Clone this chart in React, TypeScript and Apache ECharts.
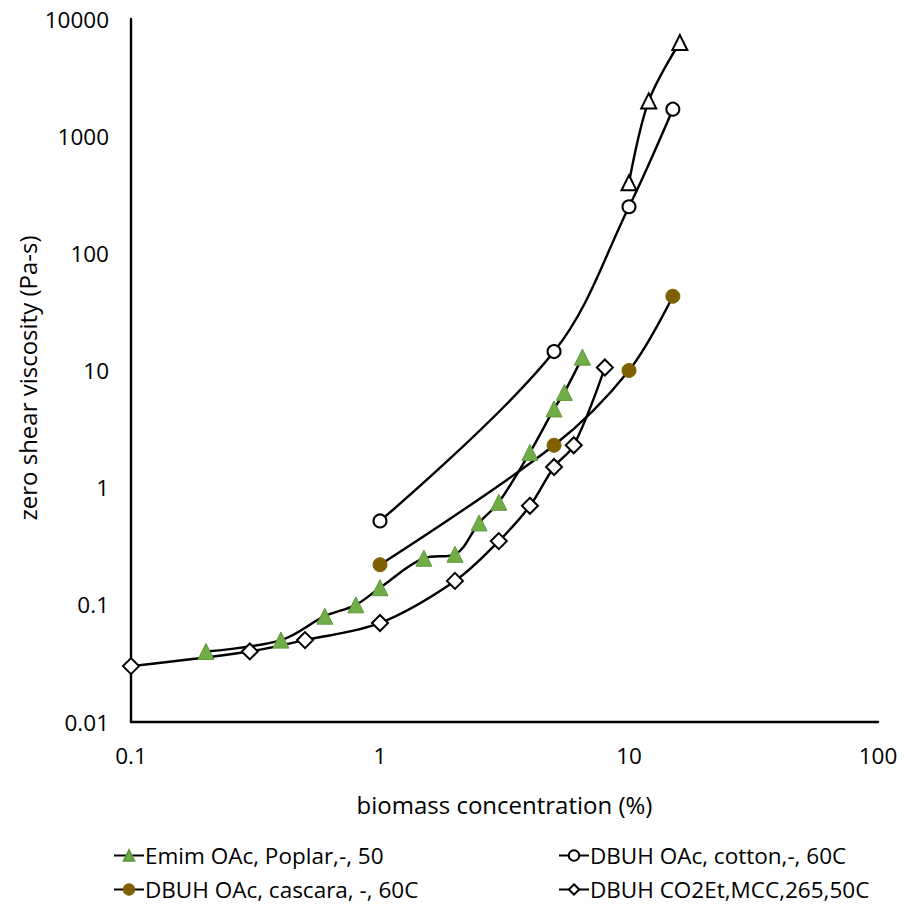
import React, { useEffect, useRef } from "react";
import * as echarts from "echarts";

const emimX = [0.2, 0.4, 0.6, 0.8, 1, 1.5, 2, 2.5, 3, 4, 5, 5.5, 6.5];
const emimY = [0.04, 0.05, 0.08, 0.1, 0.14, 0.25, 0.27, 0.5, 0.75, 2, 4.7, 6.5, 13];

const cottonX = [1, 5, 10, 15];
const cottonY = [0.52, 14.5, 250, 1700];

const cascaraX = [1, 5, 10, 15];
const cascaraY = [0.22, 2.3, 10, 43];

const mccX = [0.1, 0.3, 0.5, 1, 2, 3, 4, 5, 6, 8];
const mccY = [0.03, 0.04, 0.05, 0.07, 0.16, 0.35, 0.7, 1.5, 2.3, 10.6];

const triX = [10, 12, 16];
const triY = [400, 2000, 6300];

const seriesNames = [
  "Emim OAc, Poplar,-, 50",
  "DBUH OAc, cotton,-, 60C",
  "DBUH OAc, cascara, -, 60C",
  "DBUH CO2Et,MCC,265,50C",
];

const xTicks = [0.1, 1, 10, 100];
const yTicks = [0.01, 0.1, 1, 10, 100, 1000, 10000];

const zip = (xs: number[], ys: number[]) => xs.map((x, i) => [x, ys[i]]);
const fmt = (v: number) => String(Number(v.toPrecision(6)));

const FONT = "Open Sans";

export default function App() {
  const ref = useRef<HTMLDivElement>(null);
  useEffect(() => {
    if (!ref.current) return;
    const chart = echarts.init(ref.current, undefined, { renderer: "svg" });
    const lineStyle = { color: "#000", width: 2.4 };
    const base = {
      type: "line" as const,
      smooth: 0.35,
      lineStyle,
      z: 2,
    };
    const legendText = { fontSize: 22.5, color: "#000", fontFamily: FONT, padding: [0, 0, 0, -4] };
    chart.setOption({
      animation: false,
      backgroundColor: "#fff",
      textStyle: { fontFamily: FONT },
      grid: { left: 131, top: 19, right: 26, bottom: 187 },
      graphic: [
        {
          type: "text",
          x: 27,
          y: 378,
          rotation: Math.PI / 2,
          style: {
            text: "zero shear viscosity (Pa-s)",
            fontSize: 24,
            fontFamily: FONT,
            fill: "#000",
            align: "center",
            verticalAlign: "middle",
          },
        },
      ],
      xAxis: {
        type: "log",
        logBase: 10,
        min: xTicks[0],
        max: xTicks[xTicks.length - 1],
        name: "biomass concentration (%)",
        nameLocation: "middle",
        nameGap: 70,
        nameTextStyle: { fontSize: 24, color: "#000", fontFamily: FONT },
        axisLine: { lineStyle: { color: "#000", width: 2.4 } },
        axisTick: { show: false },
        splitLine: { show: false },
        minorTick: { show: false },
        axisLabel: { fontSize: 22.5, color: "#000", margin: 22, formatter: (v: number) => fmt(v) },
      },
      yAxis: {
        type: "log",
        logBase: 10,
        min: yTicks[0],
        max: yTicks[yTicks.length - 1],
        axisLine: { lineStyle: { color: "#000", width: 2.4 } },
        axisTick: { show: false },
        splitLine: { show: false },
        axisLabel: { fontSize: 22.5, color: "#000", margin: 22, formatter: (v: number) => fmt(v) },
      },
      legend: [
        {
          left: 108,
          top: 839,
          orient: "vertical",
          itemGap: 11,
          itemWidth: 30,
          itemHeight: 13,
          data: [seriesNames[0], seriesNames[2]],
          textStyle: legendText,
        },
        {
          left: 553,
          top: 839,
          orient: "vertical",
          itemGap: 11,
          itemWidth: 30,
          itemHeight: 13,
          data: [seriesNames[1], seriesNames[3]],
          textStyle: legendText,
        },
      ],
      series: [
        {
          ...base,
          name: "triangles-open",
          data: zip(triX, triY),
          symbol: "triangle",
          symbolSize: 15,
          itemStyle: { color: "#fff", borderColor: "#000", borderWidth: 2 },
        },
        {
          ...base,
          name: seriesNames[1],
          data: zip(cottonX, cottonY),
          symbol: "circle",
          symbolSize: 13,
          itemStyle: { color: "#fff", borderColor: "#000", borderWidth: 2 },
        },
        {
          ...base,
          name: seriesNames[2],
          data: zip(cascaraX, cascaraY),
          symbol: "circle",
          symbolSize: 14,
          itemStyle: { color: "#7f6000", borderColor: "#7f6000", borderWidth: 1 },
        },
        {
          ...base,
          name: seriesNames[3],
          data: zip(mccX, mccY),
          symbol: "diamond",
          symbolSize: 16,
          itemStyle: { color: "#fff", borderColor: "#000", borderWidth: 2 },
        },
        {
          ...base,
          name: seriesNames[0],
          data: zip(emimX, emimY),
          symbol: "triangle",
          symbolSize: 16,
          itemStyle: { color: "#70ad47", borderColor: "#5e9a3a", borderWidth: 1 },
        },
      ],
    });
    return () => chart.dispose();
  }, []);
  return <div ref={ref} style={{ width: 904, height: 909, position: "absolute", left: 0, top: 0 }} />;
}
